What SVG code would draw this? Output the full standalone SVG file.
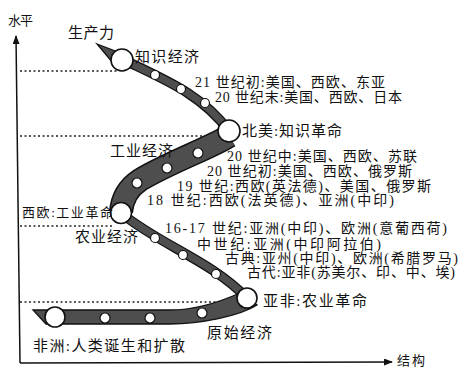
<svg xmlns="http://www.w3.org/2000/svg" width="463" height="370" viewBox="0 0 463 370">
<style>
text{font-family:"Liberation Serif","Noto Sans CJK SC",serif;font-size:15px;fill:#111}
.s13{font-size:13px}
.s14{font-size:14px}
.axis{stroke:#111;stroke-width:1.5;fill:none}
.dot{stroke:#222;stroke-width:1.3;stroke-dasharray:2 2.5;fill:none}
.bandO{stroke:#111;fill:none;stroke-linecap:butt}
.bandI{stroke:#4e4e4e;fill:none;stroke-linecap:butt}
.fillband{fill:#4e4e4e;stroke:#111;stroke-width:1.3}
.big{fill:#fff;stroke:#111;stroke-width:1.6}
.small{fill:#fff;stroke:#111;stroke-width:1.2}
</style>
<defs>
<marker id="arr" markerWidth="9" markerHeight="7" refX="8" refY="3.5" orient="auto" markerUnits="userSpaceOnUse">
<path d="M0,0 L9,3.5 L0,7 z" fill="#111"/>
</marker>
</defs>
<g id="axes">
<line class="axis" x1="20" y1="363" x2="16" y2="36" marker-end="url(#arr)"/>
<line class="axis" x1="20" y1="363" x2="392" y2="362" marker-end="url(#arr)"/>
<text x="8" y="25" class="s13" textLength="25">水平</text>
<text x="397" y="365" class="s13" textLength="28">结构</text>
</g>
<g id="guides">
<line class="dot" x1="20" y1="71" x2="118" y2="71"/>
<line class="dot" x1="20" y1="136" x2="216" y2="136"/>
<line class="dot" x1="20" y1="226" x2="114" y2="226"/>
<line class="dot" x1="20" y1="302" x2="240" y2="302"/>
</g>
<g id="connectors">
<polygon class="fillband" points="97,44 118,52 112,62"/>
<path class="bandO" stroke-width="10" d="M118,57 C 160,78 200,92 229,131"/>
<path class="bandI" stroke-width="7.5" d="M118,57 C 160,78 200,92 229,131"/>
<path class="bandO" stroke-width="24" d="M229,136 C 210,148 170,162 140,180 C 128,188 122,200 121,212"/>
<path class="bandI" stroke-width="21" d="M229,136 C 210,148 170,162 140,180 C 128,188 122,200 121,212"/>
<path class="bandO" stroke-width="10" d="M121,213 C 160,245 210,260 247,298"/>
<path class="bandI" stroke-width="7.5" d="M121,213 C 160,245 210,260 247,298"/>
<path class="fillband" d="M33,310 L170,310 C 195,310 222,301 240,293 L257,305 C 240,316 200,324 170,324 L46,324 Z"/>
</g>
<g id="dots">
<circle class="small" cx="155" cy="75" r="4.5"/>
<circle class="small" cx="181" cy="89" r="4.5"/>
<circle class="small" cx="205" cy="103" r="4.5"/>
<circle class="small" cx="198" cy="153" r="5"/>
<circle class="small" cx="167" cy="168" r="5"/>
<circle class="small" cx="137" cy="183" r="5"/>
<circle class="small" cx="155" cy="238" r="4.5"/>
<circle class="small" cx="183" cy="255" r="4.5"/>
<circle class="small" cx="216" cy="274" r="4.5"/>
<circle class="small" cx="202" cy="313" r="5"/>
<circle class="small" cx="150" cy="318" r="5"/>
<circle class="small" cx="105" cy="318" r="5"/>
</g>
<g id="node-knowledge">
<circle class="big" cx="122" cy="60" r="11"/>
<text x="135" y="62" textLength="64">知识经济</text>
<text x="68" y="38" textLength="46">生产力</text>
</g>
<g id="node-northamerica">
<circle class="big" cx="229" cy="131" r="11"/>
<text x="242" y="136" textLength="100">北美:知识革命</text>
</g>
<g id="node-westeurope">
<circle class="big" cx="121" cy="213" r="10.5"/>
<text x="22" y="217" class="s13" textLength="91">西欧:工业革命</text>
</g>
<g id="node-asiaafrica">
<circle class="big" cx="247" cy="298" r="10"/>
<text x="263" y="306" textLength="104">亚非:农业革命</text>
</g>
<g id="node-africa">
<circle class="big" cx="55" cy="317" r="10"/>
<text x="33" y="351" textLength="152">非洲:人类诞生和扩散</text>
</g>
<g id="labels">
<text x="195" y="87" class="s14" textLength="190">21 世纪初:美国、西欧、东亚</text>
<text x="215" y="102" class="s14" textLength="187">20 世纪末:美国、西欧、日本</text>
<text x="110" y="156" textLength="63">工业经济</text>
<text x="227" y="161" class="s14" textLength="190">20 世纪中:美国、西欧、苏联</text>
<text x="207" y="176" class="s14" textLength="205">20 世纪初:美国、西欧、俄罗斯</text>
<text x="177" y="191" class="s14" textLength="254">19 世纪:西欧(英法德)、美国、俄罗斯</text>
<text x="147" y="205" class="s14" textLength="247">18 世纪:西欧(法英德)、亚洲(中印)</text>
<text x="165" y="233" class="s14" textLength="282">16-17 世纪:亚洲(中印)、欧洲(意葡西荷)</text>
<text x="75" y="242" textLength="63">农业经济</text>
<text x="197" y="249" class="s14" textLength="184">中世纪:亚洲(中印阿拉伯)</text>
<text x="225" y="263" class="s14" textLength="233">古典:亚州(中印)、欧洲(希腊罗马)</text>
<text x="247" y="277" class="s14" textLength="208">古代:亚非(苏美尔、印、中、埃)</text>
<text x="207" y="338" textLength="65">原始经济</text>
</g>
</svg>
